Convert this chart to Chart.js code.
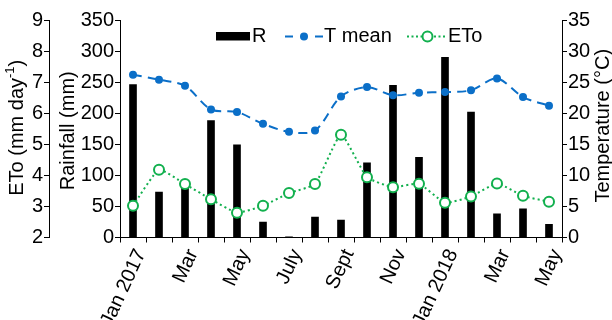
<!DOCTYPE html>
<html>
<head>
<meta charset="utf-8">
<script src="https://cdn.jsdelivr.net/npm/chart.js@4/dist/chart.umd.min.js"></script>
<style>
html,body{margin:0;padding:0;background:#fff;overflow:hidden;}
#wrap{width:612px;height:320px;}
</style>
</head>
<body>
<div id="wrap"><canvas id="c" width="612" height="320"></canvas></div>
<script>
// ---- data ----
const categories = ['Jan 2017','Feb','Mar','Apr','May','Jun','July','Aug','Sept','Oct','Nov','Dec','Jan 2018','Feb','Mar','Apr','May'];
const tickLabels = ['Jan 2017','','Mar','','May','','July','','Sept','','Nov','','Jan 2018','','Mar','','May'];
const rainfall = [246, 73, 80, 188, 149, 25, 1, 33, 28, 120, 245, 129, 290, 202, 38, 46, 21];
const tMean = [26.2, 25.4, 24.4, 20.6, 20.2, 18.3, 17.0, 17.2, 22.7, 24.2, 22.9, 23.3, 23.4, 23.7, 25.6, 22.6, 21.2];
const eto = [3.02, 4.18, 3.72, 3.23, 2.80, 3.02, 3.43, 3.72, 5.31, 3.94, 3.62, 3.73, 3.12, 3.32, 3.74, 3.34, 3.15];
const seriesNames = ['R', 'T mean', 'ETo'];
const axisTitles = {eto: 'ETo (mm day', etoSup: '-1', etoEnd: ')', rain: 'Rainfall (mm)', temp: 'Temperature (°C)'};

const FONT = "'Liberation Sans', Arial, sans-serif";
const BLUE = '#0B6FC8';
const GREEN = '#12B04E';

const overlay = {
  id: 'overlay',
  afterDraw(chart) {
    const ctx = chart.ctx;
    ctx.save();
    ctx.fillStyle = '#000';
    ctx.font = '20px ' + FONT;
    ctx.textBaseline = 'middle';
    function vText(cx, cy, parts) {
      ctx.save();
      ctx.translate(cx, cy);
      ctx.rotate(-Math.PI / 2);
      let total = 0;
      parts.forEach(p => { ctx.font = p.size + 'px ' + FONT; p.w = ctx.measureText(p.t).width; total += p.w; });
      let x = -total / 2;
      parts.forEach(p => {
        ctx.font = p.size + 'px ' + FONT;
        ctx.textAlign = 'left';
        ctx.fillText(p.t, x, p.dy || 0);
        x += p.w;
      });
      ctx.restore();
    }
    const ca = chart.chartArea;
    const midY = (ca.top + ca.bottom) / 2;
    vText(17, midY - 1, [{t: axisTitles.eto, size: 20}, {t: axisTitles.etoSup, size: 13, dy: -7}, {t: axisTitles.etoEnd, size: 20}]);
    vText(68, midY + 2, [{t: axisTitles.rain, size: 20}]);
    vText(603, midY - 3, [{t: axisTitles.temp, size: 20}]);

    // legend
    const ly = 36.5;
    ctx.font = '20px ' + FONT;
    ctx.textAlign = 'left';
    ctx.fillStyle = '#000';
    ctx.fillRect(216, ly - 4.5, 34, 8.5);
    ctx.fillText(seriesNames[0], 252, ly);
    ctx.strokeStyle = BLUE;
    ctx.lineWidth = 2;
    ctx.beginPath();
    ctx.moveTo(285, ly); ctx.lineTo(293, ly);
    ctx.moveTo(315, ly); ctx.lineTo(323, ly);
    ctx.stroke();
    ctx.fillStyle = BLUE;
    ctx.beginPath(); ctx.arc(304, ly, 4, 0, Math.PI * 2); ctx.fill();
    ctx.fillStyle = '#000';
    ctx.fillText(seriesNames[1], 324, ly);
    ctx.strokeStyle = GREEN;
    ctx.setLineDash([2, 2.5]);
    ctx.beginPath();
    ctx.moveTo(407, ly); ctx.lineTo(446, ly);
    ctx.stroke();
    ctx.setLineDash([]);
    ctx.fillStyle = '#fff';
    ctx.beginPath(); ctx.arc(427.5, ly, 5, 0, Math.PI * 2); ctx.fill(); ctx.stroke();
    ctx.fillStyle = '#000';
    ctx.fillText(seriesNames[2], 448, ly);
    ctx.restore();
  }
};

const tickFont = {family: FONT, size: 20};
const gridY = {display: true, drawOnChartArea: false, tickLength: 5, color: '#000', lineWidth: 1};

new Chart(document.getElementById('c'), {
  data: {
    labels: categories,
    datasets: [
      {type: 'line', label: seriesNames[1], data: tMean, yAxisID: 'yT', order: 1,
       borderColor: BLUE, backgroundColor: BLUE, borderWidth: 2, borderDash: [9, 6],
       pointRadius: 4, pointBackgroundColor: BLUE, pointBorderColor: BLUE, pointBorderWidth: 0, tension: 0.3},
      {type: 'line', label: seriesNames[2], data: eto, yAxisID: 'yE', order: 2,
       borderColor: GREEN, backgroundColor: '#fff', borderWidth: 2, borderDash: [2, 3],
       pointRadius: 5, pointBackgroundColor: '#fff', pointBorderColor: GREEN, pointBorderWidth: 2, tension: 0.15},
      {type: 'bar', label: seriesNames[0], data: rainfall, yAxisID: 'yR', order: 3,
       backgroundColor: '#000', borderWidth: 0, barThickness: 7}
    ]
  },
  options: {
    responsive: false,
    animation: false,
    events: [],
    layout: {padding: {top: 20, left: 0, right: 0, bottom: 0}},
    plugins: {legend: {display: false}, tooltip: {enabled: false}},
    scales: {
      x: {
        type: 'category', position: 'bottom', offset: true,
        grid: {display: true, drawOnChartArea: false, tickLength: 5, color: '#000', offset: true},
        border: {color: '#000', width: 1},
        ticks: {autoSkip: false, maxRotation: 65, minRotation: 65, color: '#000', font: tickFont, padding: 3, labelOffset: 8,
                callback: (v, i) => tickLabels[i]},
        afterFit: s => { s.height = 82.5; }
      },
      yR: {
        position: 'left', weight: 0, min: 0, max: 350,
        grid: gridY, border: {color: '#000', width: 1},
        ticks: {stepSize: 50, color: '#000', font: tickFont, padding: 1},
        afterFit: s => { s.width = 71; }
      },
      yE: {
        position: 'left', weight: 1, min: 2, max: 9,
        grid: gridY, border: {color: '#000', width: 1},
        ticks: {stepSize: 1, color: '#000', font: tickFont, padding: 1},
        afterFit: s => { s.width = 49; }
      },
      yT: {
        position: 'right', min: 0, max: 35,
        grid: gridY, border: {color: '#000', width: 1},
        ticks: {stepSize: 5, color: '#000', font: tickFont, padding: 1},
        afterFit: s => { s.width = 50; }
      }
    }
  },
  plugins: [overlay]
});
</script>
</body>
</html>
